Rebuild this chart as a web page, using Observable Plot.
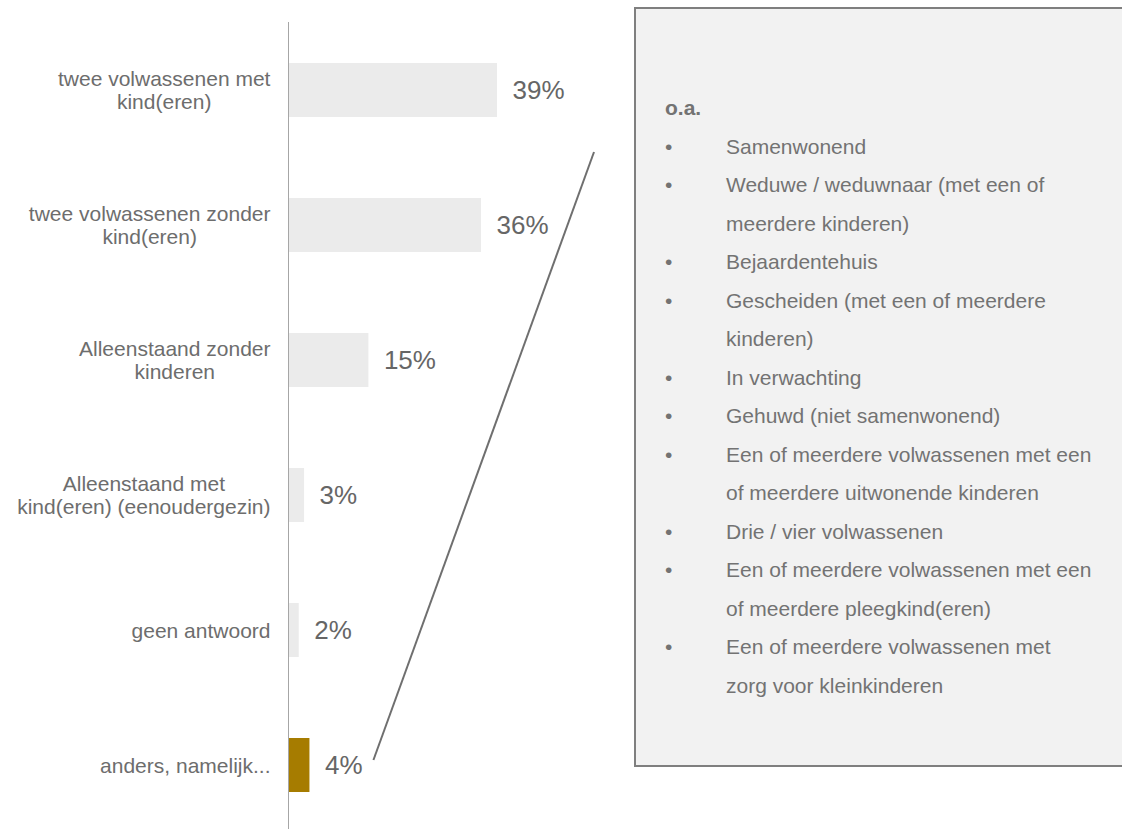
<!DOCTYPE html>
<html>
<head>
<meta charset="utf-8">
<script src="https://cdn.jsdelivr.net/npm/d3@7"></script>
<script src="https://cdn.jsdelivr.net/npm/@observablehq/plot@0.6"></script>
<style>
  html, body { margin: 0; padding: 0; background: #fff; overflow: hidden; }
  #wrap { position: relative; width: 1122px; height: 829px; overflow: hidden;
          font-family: "Liberation Sans", Arial, sans-serif; }
  #wrap svg { position: absolute; left: 0; top: 0; }
  #box { position: absolute; left: 634px; top: 7px; width: 540px; height: 760px;
         box-sizing: border-box; background: #f2f2f2; border: 2px solid #7f7f7f;
         padding: 80px 0 0 29px; color: #737373; font-size: 21px; line-height: 38.5px; }
  #box .head { font-weight: bold; }
  #box .item { display: flex; }
  #box .bullet { width: 61px; flex: none; }
  #box .txt { white-space: pre-line; }
</style>
</head>
<body>
<div id="wrap"></div>
<script>
// ---- data ----
const categories = [
  "twee volwassenen met kind(eren)",
  "twee volwassenen zonder kind(eren)",
  "Alleenstaand zonder kinderen",
  "Alleenstaand met kind(eren) (eenoudergezin)",
  "geen antwoord",
  "anders, namelijk..."
];
const categoryLabels = [
  "twee volwassenen met\nkind(eren)",
  "twee volwassenen zonder\nkind(eren)",
  "Alleenstaand zonder\nkinderen",
  "Alleenstaand met\nkind(eren) (eenoudergezin)",
  "geen antwoord",
  "anders, namelijk..."
];
const values = [39, 36, 15, 3, 2, 4];
const highlighted = "anders, namelijk...";
const boxHeading = "o.a.";
const otherAnswers = [
  "Samenwonend",
  "Weduwe / weduwnaar (met een of\nmeerdere kinderen)",
  "Bejaardentehuis",
  "Gescheiden (met een of meerdere\nkinderen)",
  "In verwachting",
  "Gehuwd (niet samenwonend)",
  "Een of meerdere volwassenen met een\nof meerdere uitwonende kinderen",
  "Drie / vier volwassenen",
  "Een of meerdere volwassenen met een\nof meerdere pleegkind(eren)",
  "Een of meerdere volwassenen met\nzorg voor kleinkinderen"
];

const data = categories.map((c, i) => ({category: c, label: categoryLabels[i], value: values[i], hi: c === highlighted}));

const plot = Plot.plot({
  width: 1122,
  height: 829,
  marginLeft: 288,
  marginTop: 22,
  marginBottom: 0,
  marginRight: 0,
  style: {fontFamily: "'Liberation Sans', Arial, sans-serif", background: "transparent"},
  x: {domain: [0, 100], range: [288, 824], axis: null},
  y: {domain: categories, range: [22.5, 832.5], paddingInner: 0.6, paddingOuter: 0.3, axis: null},
  color: {domain: [false, true], range: ["#ebebeb", "#a67c00"]},
  marks: [
    Plot.barX(data, {x: "value", y: "category", fill: "hi"}),
    Plot.ruleX([0], {stroke: "#a6a6a6", strokeWidth: 1}),
    Plot.text(data, {x: "value", y: "category", text: d => d.value + "%", dx: 15,
      textAnchor: "start", fontSize: 26, fill: "#666666"}),
    Plot.text(data, {x: 0, y: "category", text: "label", dx: -18, textAnchor: "end",
      fontSize: 21, lineHeight: 1.1, fill: "#6d6d6d", className: "catlabel"})
  ]
});

const wrap = document.getElementById("wrap");
wrap.appendChild(plot);

// center the lines of each category label inside its right-aligned block
d3.select(plot).selectAll("g.catlabel").attr("text-anchor", "middle");
d3.select(plot).selectAll("g.catlabel text").each(function () {
  const bb = this.getBBox();
  const w = bb.width;
  const t = this.getAttribute("transform") || "";
  const m = /translate\(([-\d.e]+),\s*([-\d.e]+)\)/.exec(t);
  if (m) {
    const x = +m[1], y = +m[2];
    this.setAttribute("transform", `translate(${x - w / 2},${y})`);
  }
});

// callout box
const box = document.createElement("div");
box.id = "box";
const head = document.createElement("div");
head.className = "head";
head.textContent = boxHeading;
box.appendChild(head);
for (const t of otherAnswers) {
  const item = document.createElement("div");
  item.className = "item";
  const b = document.createElement("span");
  b.className = "bullet";
  b.textContent = "•";
  const s = document.createElement("span");
  s.className = "txt";
  s.textContent = t;
  item.appendChild(b);
  item.appendChild(s);
  box.appendChild(item);
}
wrap.appendChild(box);

// connector from highlighted bar label to the box
const xs = plot.scale("x"), ys = plot.scale("y");
const hd = data.find(d => d.hi);
const sx = xs.apply(hd.value) + 64;
const sy = ys.apply(hd.category) + ys.bandwidth / 2 - 5;
d3.select(plot).append("line")
  .attr("x1", sx).attr("y1", sy)
  .attr("x2", 634 - 40).attr("y2", 152)
  .attr("stroke", "#6f6f6f").attr("stroke-width", 2);
</script>
</body>
</html>
